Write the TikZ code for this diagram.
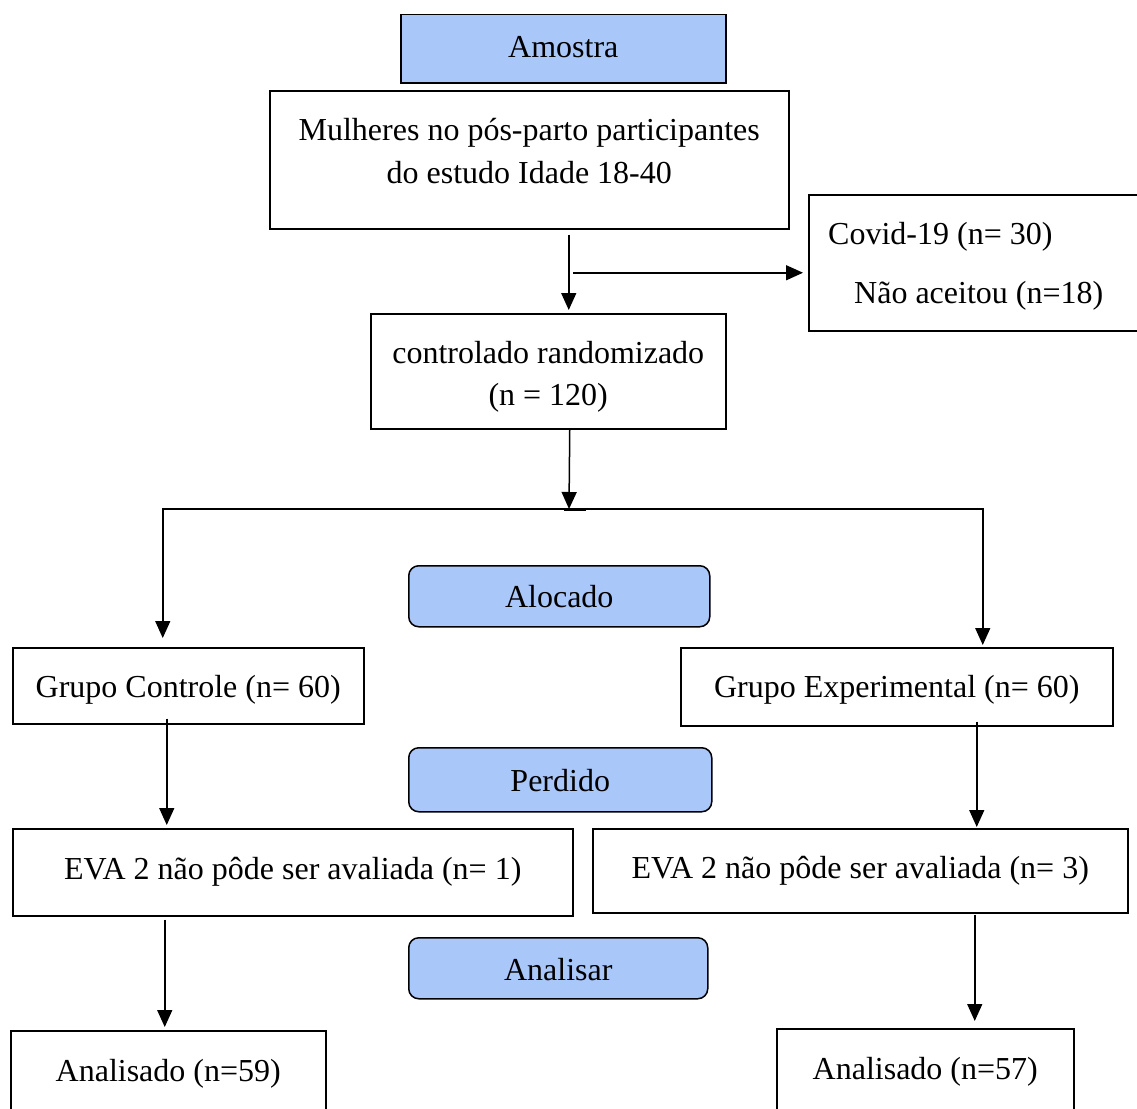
\documentclass[tikz,border=0pt]{standalone}
\usepackage{fontspec}
\setmainfont{Liberation Serif}
\usetikzlibrary{arrows.meta,calc}
\definecolor{hdrblue}{RGB}{170,199,250}
\begin{document}
\begin{tikzpicture}[x=1pt,y=-1pt,
  txt/.style={font=\fontsize{32}{42.5}\selectfont,inner sep=0pt,align=center},
  box/.style={draw,line width=1.5pt,inner sep=0pt,anchor=north west},
  hdr/.style={box,fill=hdrblue},
  rhdr/.style={hdr,rounded corners=10pt},
  arr/.style={line width=1.5pt,-{Triangle[width=15pt,length=17pt]}},
  ln/.style={line width=1.5pt}]
\useasboundingbox (0,0) rectangle (1137,1108);
\clip (0,0) rectangle (1137,1108);

\node[hdr,minimum width=325pt,minimum height=68pt] (amostra) at (400,14) {};
\node[txt] (amostraT) at ([yshift=2pt]amostra.center) {Amostra};
\node[box,minimum width=519pt,minimum height=138pt] (mulheres) at (269,90) {};
\node[txt] (mulheresT) at ([yshift=8.5pt]mulheres.center) {Mulheres no pós-parto participantes\\do estudo Idade 18-40};
\node[box,minimum width=345pt,minimum height=136pt] (covid) at (808,194) {};
\node[txt,anchor=west] (covidA) at (828,237) {Covid-19 (n= 30)};
\node[txt,anchor=west] (covidB) at (854,296) {Não aceitou (n=18)};
\node[box,minimum width=355pt,minimum height=115pt] (rct) at (370,313) {};
\node[txt] (rctT) at ([yshift=-5.5pt]rct.center) {controlado randomizado\\(n = 120)};
\node[rhdr,minimum width=301pt,minimum height=61pt] (aloc) at (408,565) {};
\node[txt] (alocT) at (aloc.center) {Alocado};
\node[box,minimum width=351pt,minimum height=76pt] (gc) at (12,647) {};
\node[txt] (gcT) at ([yshift=-4pt]gc.center) {Grupo Controle (n= 60)};
\node[box,minimum width=432pt,minimum height=78pt] (ge) at (680,647) {};
\node[txt] (geT) at ([yshift=-3pt]ge.center) {Grupo Experimental (n= 60)};
\node[rhdr,minimum width=303pt,minimum height=64pt] (perd) at (408,747) {};
\node[txt] (perdT) at ([yshift=-1pt]perd.center) {Perdido};
\node[box,minimum width=560pt,minimum height=87pt] (evaA) at (12,828) {};
\node[txt] (evaAT) at (evaA.center) {EVA 2 não pôde ser avaliada (n= 1)};
\node[box,minimum width=535pt,minimum height=84pt] (evaB) at (592,828) {};
\node[txt] (evaBT) at (evaB.center) {EVA 2 não pôde ser avaliada (n= 3)};
\node[rhdr,minimum width=299pt,minimum height=61pt] (anal) at (408,937) {};
\node[txt] (analT) at ([yshift=-1pt]anal.center) {Analisar};
\node[box,minimum width=315pt,minimum height=82pt] (anA) at (10,1030) {};
\node[txt] (anAT) at ([yshift=-2pt]anA.center) {Analisado (n=59)};
\node[box,minimum width=297pt,minimum height=82pt] (anB) at (776,1028) {};
\node[txt] (anBT) at ([yshift=-2pt]anB.center) {Analisado (n=57)};

% connectors
\draw[arr] ([xshift=39.5pt,yshift=-5pt]mulheres.south) -- ([xshift=20.5pt,yshift=3pt]rct.north);
\draw[arr] ([xshift=-235pt,yshift=-10pt]covid.west) -- ([xshift=-5pt,yshift=-10pt]covid.west);
\coordinate (split) at (569,509);
\draw[arr] ([xshift=21.5pt]rct.south) -- (split);
\draw[arr] (split) -| ([xshift=-25.5pt,yshift=9pt]gc.north);
\draw[arr] (split) -| ([xshift=86pt,yshift=2pt]ge.north);
\draw[line width=3pt] ([xshift=-5pt,yshift=-0.5pt]split) -- ([xshift=17pt,yshift=-0.5pt]split);
\draw[arr] ([xshift=-21.5pt,yshift=6pt]gc.south) -- ([xshift=-126pt,yshift=3pt]evaA.north);
\draw[arr] ([xshift=80pt,yshift=5pt]ge.south) -- ([xshift=116.5pt,yshift=1pt]evaB.north);
\draw[arr] ([xshift=-128pt,yshift=-3pt]evaA.south) -- ([xshift=-3.5pt,yshift=3pt]anA.north);
\draw[arr] ([xshift=114.5pt,yshift=-1pt]evaB.south) -- ([xshift=49.5pt,yshift=7pt]anB.north);
\end{tikzpicture}
\end{document}
